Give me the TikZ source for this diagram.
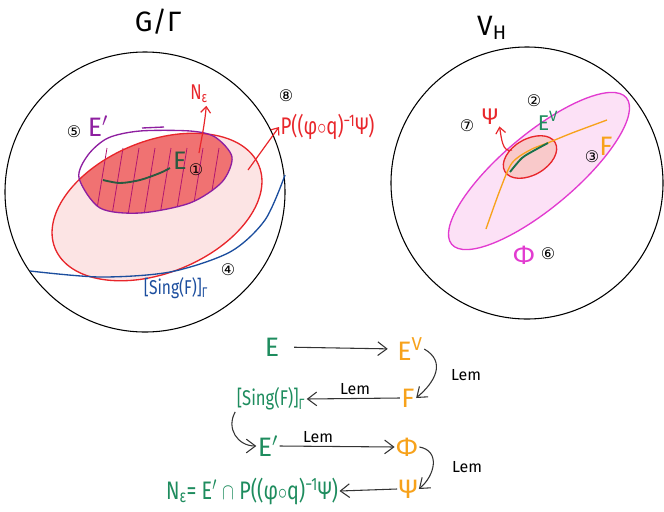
\documentclass[tikz,border=0pt]{standalone}
\usepackage{fontspec}
\usepackage{graphicx}
\setmainfont{Fira Sans}
\newfontfamily\circfont{DejaVu Sans}
\usetikzlibrary{arrows.meta,positioning,calc}
\definecolor{inkGreen}{HTML}{1E8C5E}
\definecolor{deepGreen}{HTML}{2A5A40}
\definecolor{inkOrange}{HTML}{F7A21B}
\definecolor{inkRed}{HTML}{E8262B}
\definecolor{softRed}{HTML}{F07272}
\definecolor{paleRed}{HTML}{FCE4E4}
\definecolor{inkPurple}{HTML}{8E1FA0}
\definecolor{inkBlue}{HTML}{1C4E9E}
\definecolor{inkMagenta}{HTML}{E23BD0}
\definecolor{paleMagenta}{HTML}{FCE1F6}
\newcommand{\narrow}[1]{\scalebox{0.78}[1]{#1}}

\begin{document}
\begin{tikzpicture}[x=0.75pt,y=-0.75pt,
    lbl/.style={inner sep=1pt,font=\fontsize{20}{22}\selectfont},
    num/.style={inner sep=0pt,font=\circfont\fontsize{12}{13}\selectfont},
    lem/.style={inner sep=1pt,font=\fontsize{12}{14}\selectfont},
    arr/.style={-{Straight Barb[length=2.4mm,width=3.6mm]},line width=0.8pt,black!80}]
  \useasboundingbox (0,0) rectangle (664,511);

  % titles
  \node[lbl,font=\fontsize{21}{23}\selectfont] (tG) at (158,22) {G/Γ};
  \node[lbl,font=\fontsize{21}{23}\selectfont] (tV) at (492,28) {V\textsubscript{H}};

  % left ball
  \draw[line width=0.8pt] (145,192) circle [radius=140];
  \fill[paleRed,rotate around={22:(157,207)}] (157,207) ellipse [x radius=110,y radius=66];
  \begin{scope}
    \clip[rotate around={22:(157,207)}] (157,207) ellipse [x radius=110,y radius=66];
    \fill[softRed] plot[smooth cycle] coordinates {(79,178) (88,155) (108,138) (140,131) (190,131) (215,137) (232,157) (222,182) (190,203) (140,213) (100,208)};
  \end{scope}
  \begin{scope}
    \clip plot[smooth cycle] coordinates {(79,178) (88,155) (108,138) (140,131) (190,131) (215,137) (232,157) (222,182) (190,203) (140,213) (100,208)};
    \foreach \x in {96,112,...,232}
      \draw[inkPurple!70!red,line width=0.6pt] (\x,215) -- (\x+11,148);
  \end{scope}
  \draw[inkRed,line width=1pt,rotate around={22:(157,207)}] (157,207) ellipse [x radius=110,y radius=66];
  \draw[inkPurple,line width=1pt] plot[smooth cycle] coordinates {(79,178) (88,155) (108,138) (140,131) (190,131) (215,137) (232,157) (222,182) (190,203) (140,213) (100,208)};
  \draw[inkPurple,line width=1pt] (142,128) -- (164,127);
  \draw[deepGreen,line width=1.4pt] plot[smooth] coordinates {(103,180) (120,183) (140,180) (160,173) (170,168)};
  \draw[inkBlue,line width=1pt] plot[smooth] coordinates {(30,271) (100,277) (170,272) (230,252) (265,220) (285,175)};

  \node[lbl,text=deepGreen,font=\fontsize{19}{21}\selectfont] (Eleft) at (180,161) {E};
  \node[num] (n1) at (196,170) {①};
  \node[num] (n5) at (74,132) {⑤};
  \node[lbl,text=inkPurple] (Epr) at (98,126) {E$'$};
  \node[lbl,text=inkRed,font=\fontsize{16}{18}\selectfont] (Ne) at (199,94) {\narrow{N\textsubscript{ε}}};
  \coordinate (ne0) at (199,153);
  \draw[inkRed,line width=0.9pt,-{Straight Barb[length=1.6mm,width=2.6mm]}] (ne0) to[out=80,in=-95] ($(Ne.south east)+(-3,1)$);
  \node[num] (n8) at (286,96) {⑧};
  \node[lbl,text=inkRed,font=\fontsize{18}{20}\selectfont,anchor=west] (Plbl) at (279,127) {\narrow{P((φ$\circ$q)\textsuperscript{−1}Ψ)}};
  \coordinate (p0) at (248,170);
  \draw[inkRed,line width=0.9pt,-{Straight Barb[length=1.6mm,width=2.6mm]}] (p0) -- (Plbl.west);
  \node[lbl,text=inkBlue,font=\fontsize{15}{17}\selectfont] (Sing) at (176,288) {\narrow{[Sing(F)]\textsubscript{Γ}}};
  \node[num] (n4) at (228,270) {④};

  % right ball
  \draw[line width=0.8pt] (527,183) circle [radius=136];
  \filldraw[fill=paleMagenta,draw=inkMagenta,line width=1pt,rotate around={40:(539,171)}] (539,171) ellipse [x radius=114,y radius=37];
  \filldraw[fill=inkRed!25,draw=inkRed,line width=1pt,rotate around={30:(530,157)}] (530,157) ellipse [x radius=29,y radius=18];
  \draw[inkOrange,line width=1pt] plot[smooth] coordinates {(486,229) (500,190) (512,163) (530,150) (550,142) (572,133) (607,120)};
  \draw[inkGreen!80!black,line width=1.4pt] plot[smooth] coordinates {(510,172) (522,158) (535,150) (548,143)};

  \node[num] (n7) at (467,126) {⑦};
  \node[lbl,text=inkRed,font=\fontsize{17}{19}\selectfont] (PsiR) at (490,117) {Ψ};
  \coordinate (psi0) at (512,150);
  \draw[inkRed,line width=0.9pt,-{Straight Barb[length=1.6mm,width=2.6mm]}] (psi0) to[out=200,in=-80] (PsiR.south east);
  \node[num] (n2) at (534,101) {②};
  \node[lbl,text=inkGreen,font=\fontsize{16}{18}\selectfont] (EVr) at (548,121) {E\textsuperscript{V}};
  \node[num] (n3) at (592,157) {③};
  \node[lbl,text=inkOrange] (Fr) at (606,146) {F};
  \node[lbl,text=inkMagenta] (Phir) at (524,255) {Φ};
  \node[num] (n6) at (548,254) {⑥};

  % chain of lemmas
  \node[lbl,text=inkGreen] (E) at (272,347) {E};
  \node[lbl,text=inkOrange] (EV) at (410,349) {E\textsuperscript{V}};
  \node[lbl,text=inkOrange] (F) at (408,398) {F};
  \node[lbl,text=inkGreen,font=\fontsize{16}{18}\selectfont] (S) at (271,399) {\narrow{[Sing(F)]\textsubscript{Γ}}};
  \node[lbl,text=inkGreen] (Ep) at (268,446) {E$'$};
  \node[lbl,text=inkOrange] (Phi) at (407,447) {Φ};
  \node[lbl,text=inkOrange] (Psi) at (408,489) {Ψ};
  \node[lbl,text=inkGreen,font=\fontsize{19}{21}\selectfont] (N) at (252,491) {\narrow{N\textsubscript{ε}= E$'$ $\cap$ P((φ$\circ$q)\textsuperscript{−1}Ψ)}};

  \draw[arr,shorten <=10pt,shorten >=6pt] (E.east) -- (EV.west);
  \draw[arr] (EV.east) to[out=-30,in=40,looseness=1.3] (F.east);
  \draw[arr] (F.west) -- (S.east);
  \draw[arr] (S.south west) to[out=-120,in=180,looseness=1.2] (Ep.west);
  \draw[arr] (Ep.east) -- (Phi.west);
  \draw[arr] (Phi.east) to[out=-10,in=40,looseness=1.3] (Psi.east);
  \draw[arr] (Psi.west) -- (N.east);

  \node[lem] (l1) at (466,375) {Lem};
  \node[lem] (l2) at (355,389) {Lem};
  \node[lem] (l3) at (318,437) {Lem};
  \node[lem] (l4) at (467,467) {Lem};
\end{tikzpicture}
\end{document}
